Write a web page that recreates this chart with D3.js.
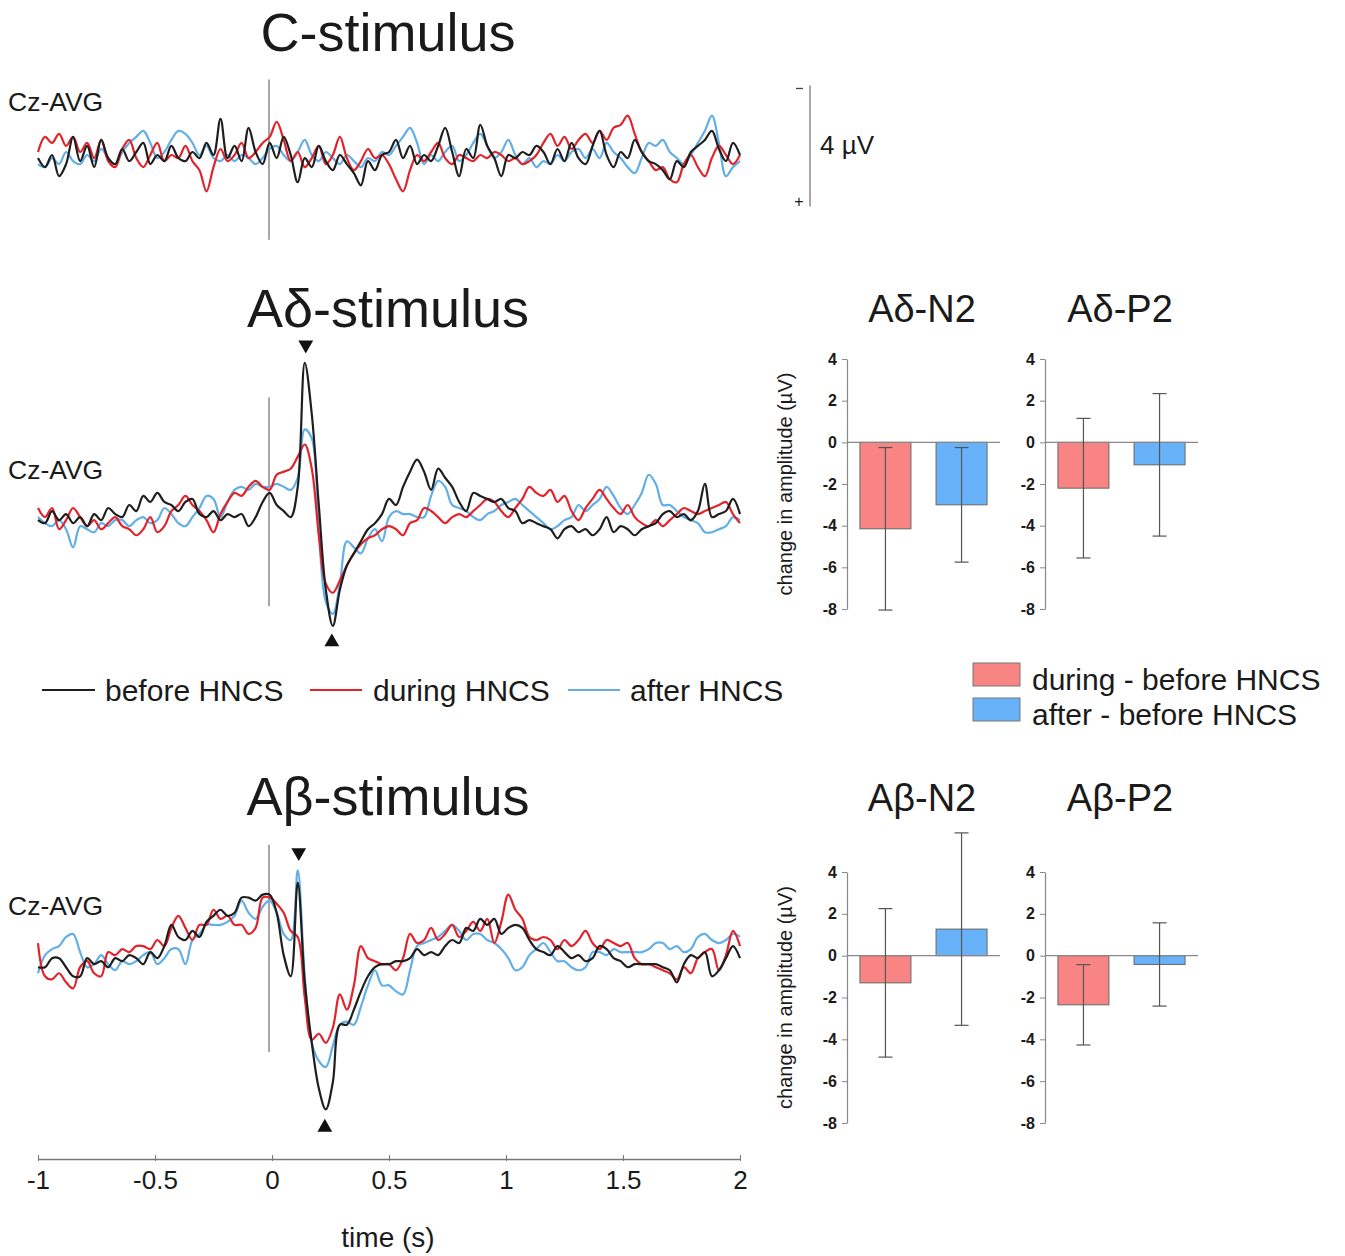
<!DOCTYPE html>
<html>
<head>
<meta charset="utf-8">
<script src="https://cdn.jsdelivr.net/npm/d3@7"></script>
<style>
  body { margin: 0; background: #fff; }
  text { font-family: "Liberation Sans", Arial, sans-serif; fill: #1a1a1a; }
</style>
</head>
<body>
<svg id="fig" width="1345" height="1256"></svg>
<script>
// ---- Grand-average ERPs at Cz-AVG, sampled every 30 ms from -1 s to 2 s (µV, negative up) ----
const sampleStart = -1;
const sampleStep = 0.03;
const timeTicks = [-1, -0.5, 0, 0.5, 1, 1.5, 2];
const conditions = ["before HNCS", "during HNCS", "after HNCS"];

const cBefore = [0.2,0.5,0.1,0.8,0.4,-0.5,0.3,-0.2,0.5,-0.4,0.2,0.4,-0.1,0.3,0.0,-0.3,0.4,0.1,0.3,-0.2,
  0.2,0.3,0.0,0.2,-0.3,0.1,-1.1,0.2,-0.2,0.3,-0.8,0.0,0.4,-0.3,0.2,-0.5,0.1,1.0,0.2,0.5,
  -0.2,0.3,0.6,0.1,0.4,0.7,1.1,0.3,0.6,0.1,0.0,-0.4,0.2,-0.2,0.4,0.1,0.3,-0.2,-0.8,0.0,
  0.8,-0.1,0.2,-0.9,-0.2,0.2,0.8,0.1,0.2,0.0,0.1,-0.2,0.0,0.4,-0.1,0.3,-0.3,0.2,0.4,-0.2,
  -0.7,0.1,0.5,0.0,0.2,-0.4,0.0,0.3,0.4,0.6,0.9,0.3,0.5,0.0,-0.2,-0.4,-0.7,-0.1,0.3,-0.3,0.1];
const cDuring = [0.0,-0.5,-0.3,-0.6,-0.2,-0.5,0.0,-0.3,0.2,-0.4,0.3,0.5,-0.1,-0.4,0.2,0.5,0.1,-0.3,0.3,0.1,
  0.2,-0.2,0.3,0.6,1.3,0.5,-0.1,0.3,0.1,-0.3,0.2,0.0,-0.3,-0.5,-1.0,-0.4,0.3,0.0,0.5,0.2,
  -0.2,0.4,0.1,-0.5,0.2,0.6,0.3,-0.1,0.2,0.1,0.4,0.9,1.3,0.6,0.1,0.3,0.0,-0.3,0.2,0.4,
  0.1,0.2,0.3,0.1,0.2,0.0,0.1,0.3,0.2,0.4,0.3,0.1,-0.3,-0.6,-0.2,-0.5,-0.1,-0.4,-0.6,-0.3,
  -0.7,-0.4,-0.8,-0.9,-1.2,-0.6,0.0,0.3,0.6,0.5,0.9,1.0,0.4,0.1,0.5,0.8,0.2,-0.2,0.1,0.4,0.1];
const cAfter = [0.4,0.5,0.2,0.4,0.0,0.3,0.4,0.1,0.3,-0.1,0.2,0.4,0.0,-0.3,-0.5,-0.7,-0.3,0.2,0.0,-0.4,
  -0.7,-0.6,-0.3,0.1,-0.2,0.2,0.3,0.1,0.3,0.1,0.2,0.4,0.2,-0.1,-0.2,0.1,0.3,0.0,-0.4,0.1,
  0.3,0.0,0.2,0.4,0.1,0.3,0.5,0.2,0.3,0.0,0.1,-0.2,-0.5,-0.8,-0.3,0.4,0.1,0.3,0.0,-0.2,
  0.3,0.1,-0.3,-0.6,-0.2,0.2,0.0,-0.4,0.1,0.4,0.2,0.5,0.3,0.4,0.1,0.3,0.0,-0.1,0.2,-0.1,
  0.2,-0.3,0.0,0.2,0.5,0.7,0.2,-0.3,-0.2,-0.4,0.0,0.2,0.4,0.1,-0.3,-0.7,-1.2,-0.3,0.8,0.5,0.3];

const adBefore = [0.5,0.6,0.2,0.5,0.3,0.6,0.4,0.7,0.3,0.5,0.1,0.3,0.4,0.0,0.2,-0.3,-0.1,-0.4,-0.1,0.0,
  0.2,-0.1,-0.2,0.3,0.4,0.2,0.5,0.3,0.4,0.3,0.7,0.4,-0.1,-0.4,0.0,0.2,0.4,-0.6,-4.7,-3.0,
  0.0,2.8,4.0,2.8,2.0,1.6,1.2,0.8,0.6,0.3,-0.2,0.0,-0.6,-1.1,-1.5,-1.1,-0.5,-1.2,-0.9,-0.6,
  -0.1,0.2,-0.4,-0.3,-0.2,-0.1,-0.2,0.1,0.2,0.6,0.5,0.6,0.7,0.8,1.1,0.8,0.7,0.9,0.8,1.0,
  0.8,0.4,0.9,0.7,0.8,1.0,0.8,0.7,0.6,0.3,0.2,0.4,0.3,0.5,0.2,-0.7,0.4,0.3,0.2,-0.2,0.3];
const adDuring = [0.1,0.4,0.1,0.8,0.5,0.1,0.4,0.7,0.5,0.8,0.6,0.4,0.7,0.8,1.0,0.8,0.4,0.9,0.7,0.2,
  0.0,-0.3,0.0,0.2,0.5,0.9,0.3,-0.1,-0.4,-0.3,-0.6,-0.8,-0.6,-0.5,-1.0,-1.1,-1.2,-1.6,-2.0,-1.2,
  1.0,2.6,2.9,2.5,2.0,1.6,1.3,1.1,1.0,0.8,0.7,0.8,1.0,0.6,0.5,0.1,0.2,0.4,0.6,0.4,
  0.3,0.4,0.2,0.0,-0.2,-0.1,0.2,0.4,0.1,-0.2,-0.6,-0.4,-0.3,-0.5,-0.1,-0.3,0.2,0.5,0.1,-0.2,
  -0.5,-0.2,0.1,0.3,0.0,0.4,0.6,0.7,0.5,0.7,0.5,0.3,0.1,0.2,0.3,0.2,0.1,0.0,-0.1,0.3,0.6];
const adAfter = [0.4,0.6,0.7,0.5,0.8,1.4,0.7,0.8,0.9,0.6,0.7,0.5,0.5,0.7,0.5,0.4,0.6,0.5,0.1,0.3,
  0.6,0.7,0.4,0.1,-0.3,-0.2,0.4,-0.1,-0.5,-0.6,-0.5,-0.7,-0.6,-0.6,-0.7,-0.6,-0.5,-0.9,-2.5,-2.2,
  0.9,3.2,3.6,2.6,1.2,1.4,1.6,1.1,0.8,1.2,0.4,0.2,0.3,0.3,0.4,0.4,-0.3,-0.8,-0.6,0.0,
  0.1,0.2,0.4,0.5,0.3,0.2,0.0,-0.1,-0.2,0.0,0.2,0.4,0.6,0.8,0.7,0.5,0.4,0.0,0.2,0.0,
  -0.2,-0.6,-0.3,0.1,0.3,0.0,-0.4,-1.0,-0.7,0.0,0.0,0.2,0.4,0.5,0.6,0.9,0.9,0.8,0.7,0.4,0.5];

const abBefore = [0.9,0.9,0.6,0.6,0.9,1.2,1.2,0.6,0.8,0.7,0.9,0.6,0.7,0.5,0.6,0.8,0.4,0.6,0.2,-0.5,
  -0.1,0.0,-0.3,-0.1,-0.6,-0.8,-1.0,-0.8,-0.9,-1.4,-1.4,-1.3,-1.5,-1.5,-0.9,0.5,1.2,-1.9,1.4,3.4,
  4.9,5.6,4.7,2.8,2.8,2.3,1.7,1.2,0.9,0.8,0.8,0.7,0.7,0.6,0.3,0.5,0.4,0.5,0.2,0.0,
  0.1,-0.4,-0.3,-0.7,-0.5,-0.7,-0.2,-0.4,-0.5,-0.4,0.0,0.3,0.4,0.5,0.2,0.4,0.6,0.5,0.7,0.6,
  0.2,0.3,0.6,0.7,0.9,0.8,0.8,0.8,0.8,0.9,1.0,1.4,0.8,0.5,0.6,0.4,1.2,1.0,0.6,0.2,0.6];
const abDuring = [0.1,1.2,1.3,1.1,1.4,1.6,0.9,0.7,1.1,1.2,0.4,0.5,0.3,0.4,0.2,0.2,0.3,0.0,0.2,-0.4,
  -0.8,-0.4,0.0,-0.5,-0.5,-1.0,-0.7,-0.8,-0.5,-0.5,-0.2,-0.4,-1.4,-1.4,-1.2,-0.9,-0.3,-0.1,1.9,3.3,
  3.1,3.4,2.9,1.8,2.3,1.5,0.2,0.6,0.7,0.8,0.8,1.0,0.6,-0.2,0.1,0.0,-0.4,0.0,-0.2,-0.5,
  -0.1,-0.3,-0.6,-0.3,-0.7,0.1,-0.6,-1.5,-1.0,-0.7,-0.1,0.0,-0.1,0.0,0.3,0.0,0.2,0.0,-0.3,0.1,
  0.3,0.0,0.1,0.2,0.1,0.6,0.8,0.8,0.9,1.0,1.1,1.3,0.9,1.1,0.6,0.4,0.3,1.0,0.5,-0.3,0.2];
const abAfter = [1.1,0.5,0.3,0.2,-0.1,-0.2,0.4,0.9,0.8,0.5,0.8,1.0,0.7,0.8,0.7,0.5,0.4,0.8,0.6,0.3,
  0.3,0.8,0.0,-0.2,-0.5,-0.5,-0.5,-0.6,-0.8,-1.3,-0.9,-0.7,-1.1,-1.3,-0.9,-0.2,0.0,-2.3,1.2,3.4,
  4.0,4.2,3.5,2.8,2.7,2.8,2.2,1.5,1.0,1.5,1.5,1.7,1.8,1.0,0.2,0.1,0.0,-0.1,-0.3,-0.5,
  -0.3,0.0,-0.2,-0.2,0.0,0.1,0.3,0.6,1.0,0.9,0.5,0.3,0.1,0.4,0.7,0.7,0.9,1.0,0.9,0.4,
  0.4,0.5,0.3,0.4,0.4,0.4,0.4,0.3,0.1,0.1,0.3,0.2,0.4,0.3,-0.1,-0.2,0.0,0.1,0.0,-0.2,-0.1];

// ---- Amplitude change (mean ± SD, µV) ----
const barGroups = ["during - before HNCS", "after - before HNCS"];
const barTicks = [-8, -6, -4, -2, 0, 2, 4];
const adN2Mean = [-4.15, -3.0];
const adN2Sd   = [3.9, 2.75];
const adP2Mean = [-2.2, -1.08];
const adP2Sd   = [3.35, 3.42];
const abN2Mean = [-1.3, 1.27];
const abN2Sd   = [3.55, 4.6];
const abP2Mean = [-2.35, -0.42];
const abP2Sd   = [1.92, 1.99];

// ---- styling ----
const traceColors = { "before HNCS": "#1e1e1e", "during HNCS": "#e2232b", "after HNCS": "#62aee6" };
const barFill = ["#f98484", "#68b2fa"];
const plainNumber = d => String(d);   // hyphen-minus labels
const svg = d3.select("#fig");
const times = d3.range(cBefore.length).map(i => sampleStart + i * sampleStep);
const x = d3.scaleLinear().domain([-1, 2]).range([38, 740]);
const pxPerMicroVolt = 30.25;

const tracePanels = [
  { title: "C-stimulus", titleY: 51, y0: 152, labelY: 111, stim: [-2.4, 2.9],
    series: [cBefore, cDuring, cAfter], markers: null },
  { title: "A\u03b4-stimulus", titleY: 327, y0: 505, labelY: 479, stim: [-3.55, 3.35],
    series: [adBefore, adDuring, adAfter], markers: { up: -18, down: 16 } },
  { title: "A\u03b2-stimulus", titleY: 815, y0: 940, labelY: 915, stim: [-3.15, 3.7],
    series: [abBefore, abDuring, abAfter], markers: { up: -30, down: 18 } }
];

const line = d3.line().curve(d3.curveCatmullRom.alpha(0.5));

tracePanels.forEach(p => {
  const y = d3.scaleLinear().domain([-1, 1]).range([p.y0 - pxPerMicroVolt, p.y0 + pxPerMicroVolt]);
  const g = svg.append("g");

  g.append("text").attr("x", 388).attr("y", p.titleY).attr("text-anchor", "middle")
    .attr("font-size", 54).text(p.title);
  g.append("text").attr("x", 8).attr("y", p.labelY).attr("font-size", 26.5).text("Cz-AVG");

  // stimulus onset
  g.append("line").attr("x1", x(0) - 3).attr("x2", x(0) - 3)
    .attr("y1", y(p.stim[0])).attr("y2", y(p.stim[1]))
    .attr("stroke", "#777").attr("stroke-width", 1.3);

  // draw after, during, before so the baseline condition sits on top
  [2, 1, 0].forEach(k => {
    const vals = p.series[k];
    g.append("path")
      .attr("d", line(vals.map((v, i) => [x(times[i]), y(v)])))
      .attr("fill", "none")
      .attr("stroke", traceColors[conditions[k]])
      .attr("stroke-width", 2.2)
      .attr("stroke-linejoin", "round");
  });

  if (p.markers) {
    const before = p.series[0];
    const iMin = d3.minIndex(before), iMax = d3.maxIndex(before);
    const tri = d3.symbol().type(d3.symbolTriangle).size(95);
    g.append("path").attr("d", tri())
      .attr("transform", `translate(${x(times[iMin]) + 1},${y(before[iMin]) + p.markers.up}) rotate(180)`)
      .attr("fill", "#111");
    g.append("path").attr("d", tri())
      .attr("transform", `translate(${x(times[iMax]) - 1},${y(before[iMax]) + p.markers.down})`)
      .attr("fill", "#111");
  }

  if (p.title === "C-stimulus") {
    // 4 µV calibration bar
    const bx = 810;
    g.append("line").attr("x1", bx).attr("x2", bx).attr("y1", y(-2.2)).attr("y2", y(1.8))
      .attr("stroke", "#777").attr("stroke-width", 1.3);
    g.append("line").attr("x1", bx - 14).attr("x2", bx - 7).attr("y1", y(-2.1)).attr("y2", y(-2.1))
      .attr("stroke", "#444").attr("stroke-width", 1.3);
    g.append("text").attr("x", bx - 11).attr("y", y(1.65) + 5).attr("text-anchor", "middle")
      .attr("font-size", 16).text("+");
    g.append("text").attr("x", bx + 10).attr("y", y(0.05)).attr("font-size", 26).text("4 \u00b5V");
  }
});

// ---- time axis ----
const axisG = svg.append("g").attr("transform", "translate(0,1159)")
  .call(d3.axisBottom(x).tickValues(timeTicks).tickFormat(plainNumber).tickSize(5).tickSizeOuter(0).tickPadding(8));
axisG.select(".domain").attr("stroke", "#777").attr("stroke-width", 1.3);
axisG.selectAll(".tick line").attr("stroke", "#777").attr("y1", -4).attr("y2", 2);
axisG.selectAll(".tick text").attr("font-size", 26).attr("font-family", "Liberation Sans, Arial, sans-serif")
  .attr("fill", "#1a1a1a").attr("dy", "0.95em").attr("y", 5);
svg.append("text").attr("x", 388).attr("y", 1247).attr("text-anchor", "middle")
  .attr("font-size", 28).text("time (s)");

// ---- trace legend ----
const traceLegend = [
  { name: conditions[0], x1: 42, x2: 95, tx: 105 },
  { name: conditions[1], x1: 310, x2: 362, tx: 373 },
  { name: conditions[2], x1: 568, x2: 620, tx: 630 }
];
traceLegend.forEach(d => {
  svg.append("line").attr("x1", d.x1).attr("x2", d.x2).attr("y1", 690).attr("y2", 690)
    .attr("stroke", traceColors[d.name]).attr("stroke-width", 2);
  svg.append("text").attr("x", d.tx).attr("y", 701).attr("font-size", 30).text(d.name);
});

// ---- bar panels ----
const barPanels = [
  { title: "A\u03b4-N2", titleY: 322, axisX: 847, top: 359, bottom: 609, mean: adN2Mean, sd: adN2Sd, yLabel: true },
  { title: "A\u03b4-P2", titleY: 322, axisX: 1045, top: 359, bottom: 609, mean: adP2Mean, sd: adP2Sd, yLabel: false },
  { title: "A\u03b2-N2", titleY: 811, axisX: 847, top: 872, bottom: 1123, mean: abN2Mean, sd: abN2Sd, yLabel: true },
  { title: "A\u03b2-P2", titleY: 811, axisX: 1045, top: 872, bottom: 1123, mean: abP2Mean, sd: abP2Sd, yLabel: false }
];

barPanels.forEach(p => {
  const y = d3.scaleLinear().domain([-8, 4]).range([p.bottom, p.top]);
  const xb = d3.scaleBand().domain(barGroups).range([p.axisX, p.axisX + 153])
    .paddingInner(0.33).paddingOuter(0.17);
  const g = svg.append("g");

  g.append("text").attr("x", p.axisX + 75).attr("y", p.titleY).attr("text-anchor", "middle")
    .attr("font-size", 38).text(p.title);

  const ax = g.append("g").attr("transform", `translate(${p.axisX},0)`)
    .call(d3.axisLeft(y).tickValues(barTicks).tickFormat(plainNumber).tickSize(5).tickSizeOuter(0).tickPadding(5));
  ax.attr("font-size", null).attr("font-family", null);
  ax.select(".domain").attr("stroke", "#888").attr("stroke-width", 1.2);
  ax.selectAll(".tick line").attr("stroke", "#888");
  ax.selectAll(".tick text")
    .style("font-size", "16px").style("font-weight", "bold")
    .style("font-family", "Liberation Sans, Arial, sans-serif")
    .attr("fill", "#3a3a3a");

  if (p.yLabel) {
    const cy = (p.top + p.bottom) / 2;
    g.append("text").attr("transform", `translate(792,${cy}) rotate(-90)`)
      .attr("text-anchor", "middle").attr("font-size", 20).attr("fill", "#333")
      .text("change in amplitude (\u00b5V)");
  }

  barGroups.forEach((grp, k) => {
    const m = p.mean[k];
    g.append("rect").attr("x", xb(grp)).attr("width", xb.bandwidth())
      .attr("y", y(Math.max(0, m))).attr("height", Math.abs(y(m) - y(0)))
      .attr("fill", barFill[k]).attr("stroke", "#666").attr("stroke-width", 1);
  });

  g.append("line").attr("x1", p.axisX).attr("x2", p.axisX + 153).attr("y1", y(0)).attr("y2", y(0))
    .attr("stroke", "#888").attr("stroke-width", 1.4);

  barGroups.forEach((grp, k) => {
    const cx = xb(grp) + xb.bandwidth() / 2;
    const lo = p.mean[k] - p.sd[k], hi = p.mean[k] + p.sd[k];
    const eg = g.append("g").attr("stroke", "#555").attr("stroke-width", 1.2);
    eg.append("line").attr("x1", cx).attr("x2", cx).attr("y1", y(hi)).attr("y2", y(lo));
    [lo, hi].forEach(v => eg.append("line").attr("x1", cx - 7).attr("x2", cx + 7).attr("y1", y(v)).attr("y2", y(v)));
  });
});

// ---- bar legend ----
barGroups.forEach((grp, k) => {
  const yy = 663 + k * 35;
  svg.append("rect").attr("x", 973).attr("y", yy).attr("width", 47).attr("height", 23)
    .attr("fill", barFill[k]).attr("stroke", "#777").attr("stroke-width", 1);
  svg.append("text").attr("x", 1032).attr("y", yy + 27).attr("font-size", 30).text(grp);
});
</script>
</body>
</html>
